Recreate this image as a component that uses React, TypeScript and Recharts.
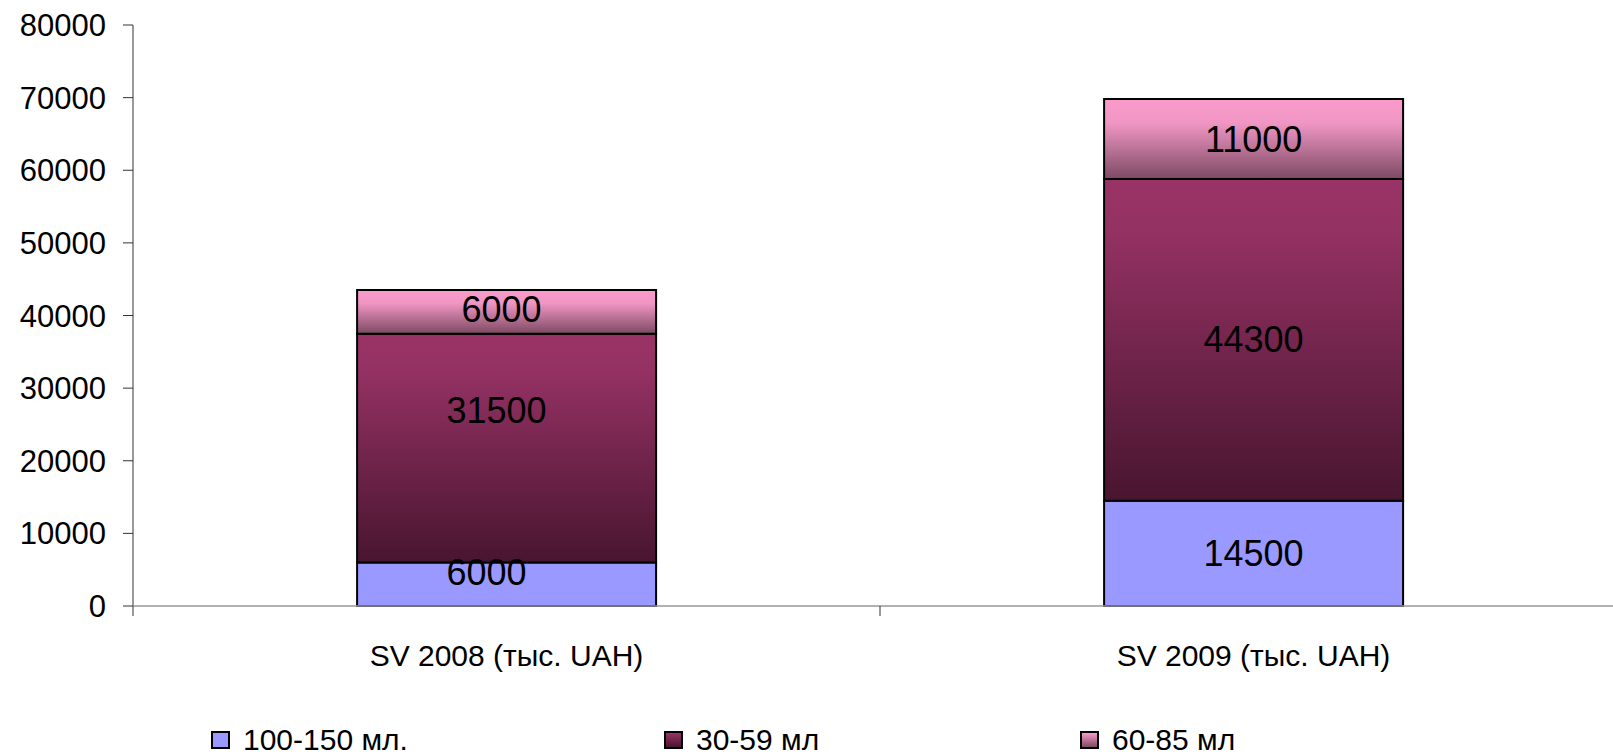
import React from 'react';
import { BarChart, Bar, XAxis, YAxis, Legend, LabelList } from 'recharts';

const categories = ['SV 2008 (тыс. UAH)', 'SV 2009 (тыс. UAH)'];
const series100150 = [6000, 14500];
const series3059 = [31500, 44300];
const series6085 = [6000, 11000];
const seriesNames = ['100-150 мл.', '30-59 мл', '60-85 мл'];
const yTicks = [0, 10000, 20000, 30000, 40000, 50000, 60000, 70000, 80000];

const data = categories.map((c, i) => ({
  category: c,
  s1: series100150[i],
  s2: series3059[i],
  s3: series6085[i],
}));

const FONT = '"Liberation Sans", Arial, sans-serif';
const CHART_W = 1640;
const CHART_H = 755;
const MARGIN = { top: 25, right: 13, left: 0, bottom: 2 };
const Y_AXIS_W = 133;
const X_AXIS_H = 117;
const LEGEND_H = 30;
const PLOT_BOTTOM = CHART_H - MARGIN.bottom - LEGEND_H - X_AXIS_H;
const PLOT_W = CHART_W - MARGIN.left - MARGIN.right - Y_AXIS_W;
const HALF_BAND = PLOT_W / (2 * categories.length);

// label nudges (px) [dx, dy] per category, as placed in the original
const labelNudge1 = [[-20, -12], [0, 0]];
const labelNudge2 = [[-10, -38], [0, 0]];
const labelNudge3 = [[-5, -2], [0, 0]];

const legendLefts = [211, 664, 1080];
const legendBgs = [
  '#9999FF',
  'linear-gradient(to bottom, #993366, #4a1530)',
  'linear-gradient(to bottom, #fa9acb, #7d4a63)',
];

const CategoryTick = (props: any) => {
  const { x, payload } = props;
  return (
    <g>
      <line x1={x - HALF_BAND} x2={x - HALF_BAND} y1={PLOT_BOTTOM} y2={PLOT_BOTTOM + 10} stroke="#333" strokeWidth={1} />
      <text x={x} y={PLOT_BOTTOM + 60} textAnchor="middle" fontFamily={FONT} fontSize={30} fill="#000">
        {payload.value}
      </text>
    </g>
  );
};

const makeLabel = (nudges: number[][]) => (p: any) => {
  const { x, y, width, height, value, index } = p;
  const n = nudges[index] || [0, 0];
  return (
    <text
      x={x + width / 2 + n[0]}
      y={y + height / 2 + n[1]}
      textAnchor="middle"
      dominantBaseline="central"
      fontFamily={FONT}
      fontSize={36}
      fill="#000"
    >
      {value}
    </text>
  );
};

const LegendContent = () => (
  <div style={{ position: 'relative', width: '100%', height: LEGEND_H }}>
    {seriesNames.map((n, i) => (
      <div
        key={n}
        style={{
          position: 'absolute',
          left: legendLefts[i],
          top: 0,
          height: LEGEND_H,
          display: 'flex',
          alignItems: 'center',
          fontFamily: FONT,
          fontSize: 30,
          color: '#000',
          whiteSpace: 'nowrap',
        }}
      >
        <span
          style={{
            display: 'inline-block',
            boxSizing: 'border-box',
            width: 19,
            height: 18,
            border: '2px solid #000',
            background: legendBgs[i],
            marginRight: 13,
          }}
        />
        <span>{n}</span>
      </div>
    ))}
  </div>
);

export default function App() {
  return (
    <div style={{ position: 'fixed', left: 0, top: 0, width: 1613, height: 755, overflow: 'hidden', background: '#fff' }}>
      <BarChart width={CHART_W} height={CHART_H} data={data} margin={MARGIN} barCategoryGap="30%">
        <defs>
          <linearGradient id="g3059" x1="0" y1="0" x2="0" y2="1">
            <stop offset="0" stopColor="#993366" />
            <stop offset="0.15" stopColor="#953264" />
            <stop offset="1" stopColor="#48152f" />
          </linearGradient>
          <linearGradient id="g6085" x1="0" y1="0" x2="0" y2="1">
            <stop offset="0" stopColor="#fa9acb" />
            <stop offset="0.3" stopColor="#f096c4" />
            <stop offset="1" stopColor="#7d4a63" />
          </linearGradient>
        </defs>
        <YAxis
          width={Y_AXIS_W}
          domain={[0, 80000]}
          ticks={yTicks}
          interval={0}
          tickSize={10}
          tickMargin={17}
          axisLine={{ stroke: '#333', strokeWidth: 1 }}
          tickLine={{ stroke: '#333', strokeWidth: 1 }}
          tick={{ fontFamily: FONT, fontSize: 31, fill: '#000' }}
        />
        <XAxis
          dataKey="category"
          height={X_AXIS_H}
          interval={0}
          tickLine={false}
          axisLine={{ stroke: '#999', strokeWidth: 1.5 }}
          tick={<CategoryTick />}
        />
        <Legend
          verticalAlign="bottom"
          height={LEGEND_H}
          wrapperStyle={{ left: 0, width: CHART_W, bottom: 0 }}
          content={<LegendContent />}
        />
        <Bar dataKey="s1" name={seriesNames[0]} stackId="a" fill="#9999FF" stroke="#000" strokeWidth={2} isAnimationActive={false}>
          <LabelList dataKey="s1" content={makeLabel(labelNudge1)} />
        </Bar>
        <Bar dataKey="s2" name={seriesNames[1]} stackId="a" fill="url(#g3059)" stroke="#000" strokeWidth={2} isAnimationActive={false}>
          <LabelList dataKey="s2" content={makeLabel(labelNudge2)} />
        </Bar>
        <Bar dataKey="s3" name={seriesNames[2]} stackId="a" fill="url(#g6085)" stroke="#000" strokeWidth={2} isAnimationActive={false}>
          <LabelList dataKey="s3" content={makeLabel(labelNudge3)} />
        </Bar>
      </BarChart>
    </div>
  );
}
